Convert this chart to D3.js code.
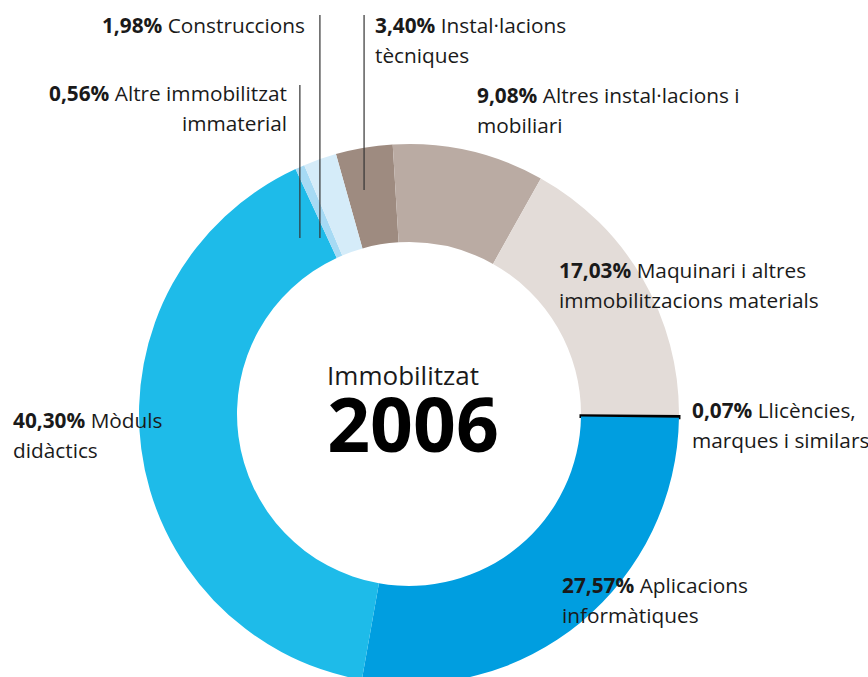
<!DOCTYPE html>
<html>
<head>
<meta charset="utf-8">
<script src="https://cdn.jsdelivr.net/npm/d3@7"></script>
<style>
  body { margin: 0; background: #fff; }
  svg { display: block; }
  text { font-family: "Open Sans", "Noto Sans", sans-serif; fill: #1a1a1a; }
</style>
</head>
<body>
<svg id="drawing_region"></svg>
<script>
// slices clockwise from the top
const names = [
    'Instal·lacions tècniques',
    'Altres instal·lacions i mobiliari',
    'Maquinari i altres immobilitzacions materials',
    'Llicències, marques i similars',
    'Aplicacions informàtiques',
    'Mòduls didàctics',
    'Altre immobilitzat immaterial',
    'Construccions'
];
const values = [3.40, 9.08, 17.03, 0.07, 27.57, 40.30, 0.56, 1.98];
const colors = ['#9e8b80', '#baaba3', '#e3dcd8', '#000000', '#009ee0', '#1ebbe9', '#a6daf4', '#d5ecf9'];

// label text, split in lines (first line starts with the bold percent)
const labelLines = [
    ['Instal·lacions', 'tècniques'],
    ['Altres instal·lacions i', 'mobiliari'],
    ['Maquinari i altres', 'immobilitzacions materials'],
    ['Llicències,', 'marques i similars'],
    ['Aplicacions', 'informàtiques'],
    ['Mòduls', 'didàctics'],
    ['Altre immobilitzat', 'immaterial'],
    ['Construccions']
];

const centerTitle = 'Immobilitzat';
const centerYear = '2006';

// where each label sits and whether it has a leader line
const labelLayout = [
    {x: 375, y: 33, anchor: 'start', lead: {top: 15, bottom: 190}},
    {x: 477, y: 103, anchor: 'start'},
    {x: 559, y: 278, anchor: 'start'},
    {x: 692, y: 418, anchor: 'start'},
    {x: 562, y: 593, anchor: 'start'},
    {x: 13, y: 428, anchor: 'start'},
    {x: 287, y: 101, anchor: 'end', lead: {top: 85, bottom: 238}},
    {x: 305, y: 33, anchor: 'end', lead: {top: 15, bottom: 238}}
];

const fmt = v => d3.format('.2f')(v).replace('.', ',') + '%';

const config = {
    parent: '#drawing_region',
    width: 868,
    height: 677,
    cx: 409,
    cy: 414,
    outer: 270,
    inner: 172,
    start: -15.7 * Math.PI / 180,
    lineHeight: 30
};

const svg = d3.select(config.parent)
    .attr('width', config.width)
    .attr('height', config.height);

const chart = svg.append('g')
    .attr('transform', `translate(${config.cx}, ${config.cy})`);

const data = values.map((v, i) => ({name: names[i], value: v, color: colors[i], i: i}));

const pie = d3.pie()
    .sort(null)
    .value(d => d.value)
    .startAngle(config.start)
    .endAngle(config.start + 2 * Math.PI);

const arc = d3.arc()
    .innerRadius(config.inner)
    .outerRadius(config.outer);

const arcs = pie(data);

chart.selectAll('path')
    .data(arcs)
    .enter()
    .append('path')
    .attr('d', arc)
    .attr('fill', d => d.data.color)
    .attr('stroke', d => d.data.value < 0.1 ? d.data.color : 'none')
    .attr('stroke-width', 3);

// leader lines: vertical, at the x of the slice middle on the outer edge
arcs.forEach(d => {
    const lay = labelLayout[d.data.i];
    if (!lay.lead) return;
    const mid = (d.startAngle + d.endAngle) / 2;
    const x = config.cx + config.outer * Math.sin(mid);
    svg.append('line')
        .attr('x1', x).attr('x2', x)
        .attr('y1', lay.lead.top).attr('y2', lay.lead.bottom)
        .attr('stroke', '#333')
        .attr('stroke-width', 1.2);
});

// labels
data.forEach(d => {
    const lay = labelLayout[d.i];
    const lines = labelLines[d.i];
    const t = svg.append('text')
        .attr('x', lay.x)
        .attr('y', lay.y)
        .attr('text-anchor', lay.anchor)
        .attr('font-size', 20.8);
    lines.forEach((line, k) => {
        const ts = t.append('tspan')
            .attr('x', lay.x)
            .attr('y', lay.y + k * config.lineHeight);
        if (k === 0) {
            ts.append('tspan').attr('font-weight', 700).text(fmt(d.value));
            ts.append('tspan').text(' ' + line);
        } else {
            ts.text(line);
        }
    });
});

// centre
chart.append('text')
    .attr('x', -6)
    .attr('y', -29)
    .attr('text-anchor', 'middle')
    .attr('font-size', 26)
    .text(centerTitle);

chart.append('text')
    .attr('x', 4)
    .attr('y', 38)
    .attr('text-anchor', 'middle')
    .attr('font-size', 75)
    .attr('font-weight', 700)
    .style('fill', '#000')
    .text(centerYear);
</script>
</body>
</html>
